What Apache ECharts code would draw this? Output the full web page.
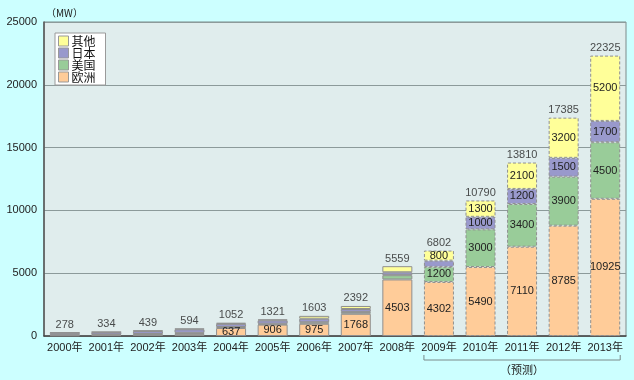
<!DOCTYPE html>
<html><head><meta charset="utf-8">
<script src="https://cdn.jsdelivr.net/npm/echarts@6/dist/echarts.min.js"></script>
<style>html,body{margin:0;padding:0;background:#ccffff;}#c{width:634px;height:380px;}</style>
</head><body><div id="c"></div>
<script>
var categories = ['2000年','2001年','2002年','2003年','2004年','2005年','2006年','2007年','2008年','2009年','2010年','2011年','2012年','2013年'];
var europe = [50, 70, 100, 150, 637, 906, 975, 1768, 4503, 4302, 5490, 7110, 8785, 10925];
var usa    = [40, 50, 60, 100, 80, 70, 120, 150, 340, 1200, 3000, 3400, 3900, 4500];
var japan  = [160, 180, 230, 280, 250, 270, 280, 230, 230, 500, 1000, 1200, 1500, 1700];
var other  = [28, 34, 49, 64, 85, 75, 228, 244, 486, 800, 1300, 2100, 3200, 5200];
var totals = [278, 334, 439, 594, 1052, 1321, 1603, 2392, 5559, 6802, 10790, 13810, 17385, 22325];
var yTicks = [0, 5000, 10000, 15000, 20000, 25000];
var forecastStart = 9;

var FONT = '"Liberation Sans", Arial, "Noto Sans CJK SC", sans-serif';
var chart = echarts.init(document.getElementById('c'), null, {renderer:'canvas'});

function mk(name, arr, color, showFrom, hideVals){
  return {
    name: name, type: 'bar', stack: 'a', barWidth: 30,
    itemStyle: {color: color, borderColor: '#8f8f8f', borderWidth: 1},
    label: {
      show: true, position: 'inside', color: '#222', fontSize: 11, fontFamily: FONT,
      formatter: function(p){ return (p.dataIndex >= showFrom && hideVals.indexOf(p.value) < 0) ? String(p.value) : ''; }
    },
    data: arr.map(function(v, i){
      return i >= forecastStart ? {value: v, itemStyle: {borderType: [3, 2]}} : {value: v};
    })
  };
}

var option = {
  backgroundColor: '#ccffff',
  animation: false,
  textStyle: {fontFamily: FONT},
  grid: {left: 44, right: 8, top: 22, bottom: 44, show: true, backgroundColor: '#e0eded', borderColor: '#7c8a8a', borderWidth: 1},
  legend: {
    orient: 'vertical', left: 55, top: 33, itemWidth: 10, itemHeight: 10, itemGap: 0, icon: 'rect',
    backgroundColor: '#ffffff', borderColor: '#9a9a9a', borderWidth: 1, borderRadius: 0,
    padding: [2, 10, 2, 3],
    itemStyle: {borderColor: '#999', borderWidth: 1, borderType: 'solid'},
    textStyle: {fontSize: 12, lineHeight: 12, color: '#111', fontFamily: '"Noto Sans CJK SC", sans-serif', padding: [0,0,0,-2]},
    data: ['其他', '日本', '美国', '欧洲']
  },
  xAxis: {
    type: 'category', data: categories,
    axisLine: {lineStyle: {color: '#444', width: 1.5}},
    axisTick: {show: false},
    axisLabel: {interval: 0, color: '#222', fontSize: 11, margin: 6, fontFamily: FONT}
  },
  yAxis: {
    type: 'value', min: 0, max: 25000, interval: 5000,
    axisLine: {show: true, lineStyle: {color: '#555', width: 1.5}},
    axisTick: {show: false},
    splitLine: {lineStyle: {color: '#8c9a9a', width: 1}},
    axisLabel: {color: '#222', fontSize: 11, margin: 7, fontFamily: FONT,
      formatter: function(v){ return yTicks.indexOf(v) >= 0 ? String(v) : ''; }}
  },
  series: [
    mk('欧洲', europe, '#ffcc99', 4, []),
    mk('美国', usa, '#99cc99', forecastStart, []),
    mk('日本', japan, '#9999cc', forecastStart, [500]),
    mk('其他', other, '#ffff99', forecastStart, []),
    {
      name: 'total', type: 'scatter', symbolSize: 0, silent: true,
      data: totals.map(function(v, i){ return [i, v]; }),
      label: {show: true, position: 'top', distance: 2, color: '#222', fontSize: 11, fontFamily: FONT,
        formatter: function(p){ return String(p.value[1]); }}
    }
  ]
};
chart.setOption(option);

// forecast bracket below the axis, positioned from the category scale
var p0 = chart.convertToPixel({xAxisIndex: 0}, forecastStart);
var p1 = chart.convertToPixel({xAxisIndex: 0}, categories.length - 1);
var x0 = p0 - 15, x1 = p1 + 15, yb = 360;
chart.setOption({graphic: [
  {type: 'text', left: 46, top: 8, style: {text: '（MW）', fontSize: 10, fill: '#222', fontFamily: '"Noto Sans CJK SC", sans-serif'}},
  {type: 'polyline', shape: {points: [[x0, yb - 5], [x0, yb], [x1, yb], [x1, yb - 5]]}, style: {stroke: '#7a8a8a', lineWidth: 1, fill: null}},
  {type: 'text', x: (x0 + x1) / 2, y: 370, style: {text: '（预测）', fontSize: 11, fill: '#222', align: 'center', verticalAlign: 'middle', fontFamily: '"Noto Sans CJK SC", sans-serif'}}
]});
</script>
</body></html>
